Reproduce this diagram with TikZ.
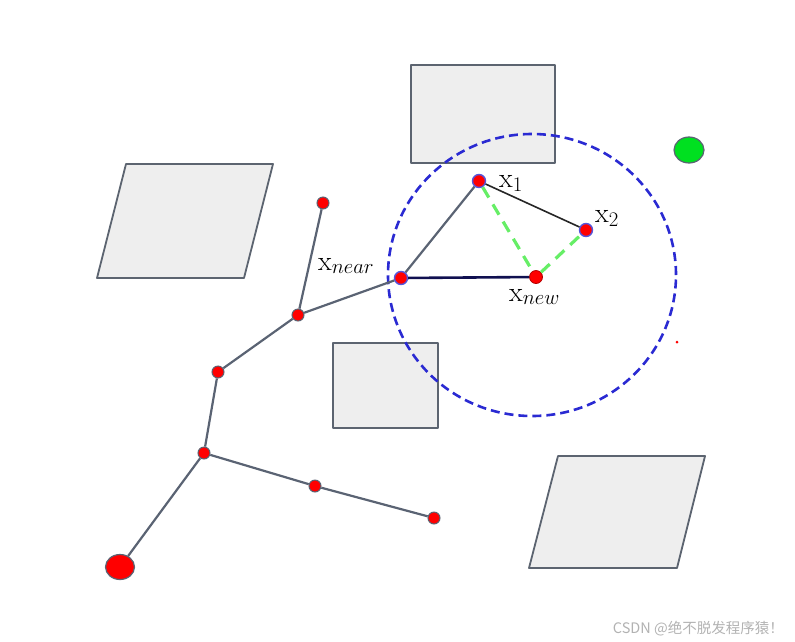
\documentclass[tikz,border=0pt]{standalone}
\usepackage{fontspec}
\newfontfamily\cjk{Noto Sans CJK SC}
\usetikzlibrary{shapes.geometric}
\definecolor{edgegray}{HTML}{5A6373}
\definecolor{obsfill}{HTML}{EEEEEE}
\definecolor{obsdraw}{HTML}{5C6470}
\definecolor{circblue}{HTML}{2A2AD2}
\definecolor{lgreen}{HTML}{66EE66}
\definecolor{goalgreen}{HTML}{00E020}
\definecolor{navy}{HTML}{101050}
\tikzset{
  treenode/.style={circle,fill=red,draw=edgegray,line width=1pt,inner sep=0pt,minimum size=12pt},
  bluenode/.style={circle,fill=red,draw=circblue!80,line width=1.4pt,inner sep=0pt,minimum size=13pt},
  newnode/.style={circle,fill=red,draw=red!70!black,line width=0.8pt,inner sep=0pt,minimum size=13pt},
  treeedge/.style={draw=edgegray,line width=2.2pt},
  obstacle/.style={fill=obsfill,draw=obsdraw,line width=1.8pt,line join=round},
  greendash/.style={draw=lgreen,line width=3.2pt,dash pattern=on 12pt off 8pt},
  lbl/.style={font=\fontsize{28}{30}\selectfont,inner sep=0pt}
}
\begin{document}
\begin{tikzpicture}[x=1pt,y=-1pt]
\useasboundingbox (0,0) rectangle (795,641);
% obstacles
\draw[obstacle] (411,65) rectangle (555,163);
\draw[obstacle] (126,164) -- (273,164) -- (244,278) -- (97,278) -- cycle;
\draw[obstacle] (333,343) rectangle (438,428);
\draw[obstacle] (558,456) -- (705,456) -- (677,568) -- (529,568) -- cycle;
% search circle
\node[ellipse,draw=circblue,line width=2.6pt,dash pattern=on 9pt off 5pt,minimum width=288pt,minimum height=282pt,inner sep=0pt] (circ) at (532,275) {};
% goal
\node[ellipse,fill=goalgreen,draw=edgegray,line width=1.2pt,minimum width=30pt,minimum height=26pt,inner sep=0pt] (goal) at (689,150) {};
\node[circle,fill=red,inner sep=0pt,minimum size=3pt] (dot) at (677,342) {};
% tree nodes
\node[ellipse,fill=red,draw=edgegray,line width=1.2pt,minimum width=29pt,minimum height=25pt,inner sep=0pt] (root) at (120,567) {};
\node[treenode] (A) at (204,453) {};
\node[treenode] (B) at (315,486) {};
\node[treenode] (C) at (434,518) {};
\node[treenode] (D) at (218,372) {};
\node[treenode] (E) at (298,315) {};
\node[treenode] (F) at (323,203) {};
\node[bluenode] (xnear) at (401,278) {};
\node[bluenode] (x1) at (479,181) {};
\node[bluenode] (x2) at (586,230) {};
\node[newnode] (xnew) at (536,277) {};
% edges
\draw[treeedge] (root) -- (A);
\draw[treeedge] (A) -- (B);
\draw[treeedge] (B) -- (C);
\draw[treeedge] (A) -- (D);
\draw[treeedge] (D) -- (E);
\draw[treeedge] (E) -- (F);
\draw[treeedge] (E) -- (xnear);
\draw[treeedge] (xnear) -- (x1);
\draw[draw=black!85,line width=1.6pt] (x1) -- (x2);
\draw[draw=navy,line width=2.6pt] (xnear) -- (xnew);
\draw[greendash] (x1) -- (xnew);
\draw[greendash] (xnew) -- (x2);
% labels
\node[lbl,anchor=base west] (l1) at (499,187) {$\mathrm{x}_1$};
\node[lbl,anchor=base west] (l2) at (595,222) {$\mathrm{x}_2$};
\node[lbl,anchor=base west] (l3) at (318,270) {$\mathrm{x}_{near}$};
\node[lbl,anchor=base west] (l4) at (509,301) {$\mathrm{x}_{new}$};
% watermark
\node[anchor=base east,text=black!30,font=\cjk\fontsize{14.5}{16}\selectfont,inner sep=0pt] (wm) at (784,633) {CSDN @绝不脱发程序猿！};
\end{tikzpicture}
\end{document}
